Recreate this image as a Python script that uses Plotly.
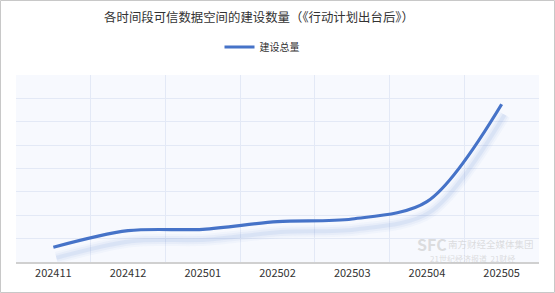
import plotly.graph_objects as go

months = ["202411", "202412", "202501", "202502", "202503", "202504", "202505"]
totals = [0.63, 1.34, 1.40, 1.73, 1.84, 2.58, 6.75]
series_name = "建设总量"
title_text = "各时间段可信数据空间的建设数量（《行动计划出台后》）"

W, H = 555, 293
ML, MR, MT, MB = 16, 16, 75, 31
PW, PH = W - ML - MR, H - MT - MB

FONT = "Noto Sans CJK SC, Noto Sans, sans-serif"
BLUE = "#4673c8"

# shadow offset in axis units (px -> units)
dx = 3 / (PW / 7.0)
dy = 10.5 / (PH / 8.0)

fig = go.Figure()
for w, a in [(12, 0.035), (8, 0.05), (4, 0.08)]:
    fig.add_trace(go.Scatter(
        x=months, y=totals, xaxis="x2", yaxis="y2", mode="lines",
        line=dict(color=f"rgba(70,115,200,{a})", width=w, shape="spline", smoothing=0.9),
        showlegend=False, hoverinfo="skip"))
fig.add_trace(go.Scatter(
    x=months, y=totals, mode="lines", name=series_name,
    line=dict(color=BLUE, width=3.2, shape="spline", smoothing=0.9)))

fig.update_layout(
    width=W, height=H,
    margin=dict(l=ML, r=MR, t=MT, b=MB),
    paper_bgcolor="white", plot_bgcolor="#f7f9fe",
    font=dict(family=FONT, size=11, color="#333"),
    title=dict(text=title_text, x=(259 - 0) / W, xanchor="center", y=1 - 18 / H, yanchor="middle",
               font=dict(size=12.4, color="#333", family=FONT)),
    legend=dict(orientation="h", x=(262 - ML) / PW, xanchor="center", y=1 + 28 / PH, yanchor="middle",
                font=dict(size=10, color="#333"), itemwidth=30, bgcolor="rgba(0,0,0,0)"),
    xaxis=dict(type="category", range=[-0.5, 6.5], tickson="boundaries", ticks="",
               showgrid=True, gridcolor="#e3e9f6", gridwidth=1,
               showline=True, linecolor="#d0d0d0", linewidth=1.5,
               tickfont=dict(size=11, color="#333"), fixedrange=True),
    yaxis=dict(range=[0, 8], dtick=1, showticklabels=False, showgrid=True,
               gridcolor="#e3e9f6", gridwidth=1, zeroline=False, fixedrange=True),
    xaxis2=dict(type="category", overlaying="x", range=[-0.5 - dx, 6.5 - dx], visible=False,
                categoryorder="array", categoryarray=months),
    yaxis2=dict(overlaying="y", range=[dy, 8 + dy], visible=False),
    showlegend=True,
)

# outer border
fig.add_shape(type="rect", xref="paper", yref="paper",
              x0=(-ML + 0.5) / PW, x1=1 + (MR - 0.5) / PW,
              y0=(-MB + 0.5) / PH, y1=1 + (MT - 0.5) / PH,
              line=dict(color="#c8c8c8", width=1), fillcolor="rgba(0,0,0,0)", layer="above")

# faint watermark
wm = "rgba(195,195,195,0.55)"
fig.add_annotation(xref="paper", yref="paper", x=(432 - ML) / PW, y=(H - 244 - MB) / PH,
                   text="<b>SFC</b>", showarrow=False, font=dict(size=16, color=wm),
                   xanchor="center", yanchor="middle")
fig.add_annotation(xref="paper", yref="paper", x=(491 - ML) / PW, y=(H - 244 - MB) / PH,
                   text="南方财经全媒体集团", showarrow=False, font=dict(size=9.5, color=wm),
                   xanchor="center", yanchor="middle")
fig.add_annotation(xref="paper", yref="paper", x=(472 - ML) / PW, y=(H - 258 - MB) / PH,
                   text="21世纪经济报道  21财经", showarrow=False, font=dict(size=8, color=wm),
                   xanchor="center", yanchor="middle")

fig.write_html("out.html")
